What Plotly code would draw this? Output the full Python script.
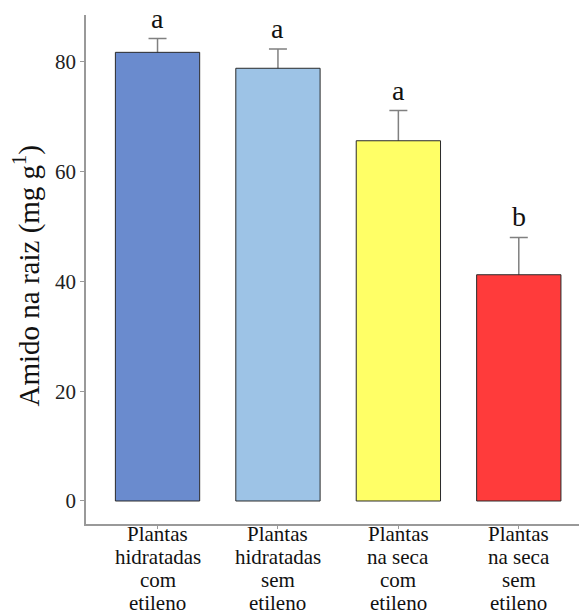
import plotly.graph_objects as go

label_lines = [["Plantas", "hidratadas", "com", "etileno"],
               ["Plantas", "hidratadas", "sem", "etileno"],
               ["Plantas", "na seca", "com", "etileno"],
               ["Plantas", "na seca", "sem", "etileno"]]
values = [81.7, 78.8, 65.6, 41.2]
errors = [2.5, 3.5, 5.5, 6.8]
letters = ["a", "a", "a", "b"]
colors = ["#6A8BCE", "#9DC3E6", "#FFFF66", "#FF3B3B"]
y_ticks = [0, 20, 40, 60, 80]

FONT = "Liberation Serif, Times New Roman, serif"
xpos = list(range(len(label_lines)))

fig = go.Figure()

# error bars on the base subplot (drawn underneath the bars)
fig.add_trace(go.Scatter(
    x=xpos, y=values, mode="markers",
    marker=dict(size=1, opacity=0),
    error_y=dict(type="data", array=errors, symmetric=True,
                 color="#808080", thickness=1.5, width=9),
    showlegend=False, hoverinfo="skip", yaxis="y",
))

# bars on an overlaid axis so they cover the lower half of the error bars
fig.add_trace(go.Bar(
    x=xpos, y=values, width=0.7,
    marker=dict(color=colors, line=dict(color="#2a2a2a", width=1)),
    showlegend=False, yaxis="y2", hoverinfo="skip",
))

annotations = []
for i, (v, e, l) in enumerate(zip(values, errors, letters)):
    annotations.append(dict(x=i, y=v + e, xref="x", yref="y", text=l,
                            showarrow=False, yanchor="bottom", yshift=4,
                            borderpad=0,
                            font=dict(family=FONT, size=28, color="#111")))
for i, lines in enumerate(label_lines):
    for j, t in enumerate(lines):
        annotations.append(dict(x=i, y=0, xref="x", yref="paper", text=t,
                                showarrow=False, yanchor="top", borderpad=0,
                                yshift=3.2 - 23 * j,
                                font=dict(family=FONT, size=21, color="#111")))
annotations.append(dict(x=(27 - 86) / 493, y=(524 - 276.5) / 509,
                        xref="paper", yref="paper",
                        text="Amido na raiz (mg g<sup>1</sup>)",
                        textangle=-90, showarrow=False,
                        xanchor="center", yanchor="middle",
                        font=dict(family=FONT, size=29, color="#111")))

yrange = [-4.19, 88.5]
fig.update_layout(
    width=579, height=615,
    margin=dict(l=86, r=0, t=15, b=91),
    plot_bgcolor="white", paper_bgcolor="white",
    font=dict(family=FONT, color="#222"),
    hovermode=False,
    xaxis=dict(range=[-0.594, 3.5], tickvals=xpos,
               showticklabels=False, ticks="outside", ticklen=3,
               tickcolor="#999", tickwidth=1, showline=True,
               linecolor="#999", linewidth=1.5, showgrid=False,
               zeroline=False),
    yaxis=dict(range=yrange, tickvals=y_ticks, ticks="outside", ticklen=4,
               tickcolor="#999", tickwidth=1, showline=True,
               linecolor="#999", linewidth=1.5, showgrid=False,
               zeroline=False, tickfont=dict(family=FONT, size=21, color="#222")),
    yaxis2=dict(range=yrange, overlaying="y", visible=False,
                showgrid=False, zeroline=False),
    annotations=annotations,
)

fig.write_html("out.html",
               config={"displayModeBar": False},
               post_script="document.body.style.margin='0';"
                           "document.body.style.overflow='hidden';")
